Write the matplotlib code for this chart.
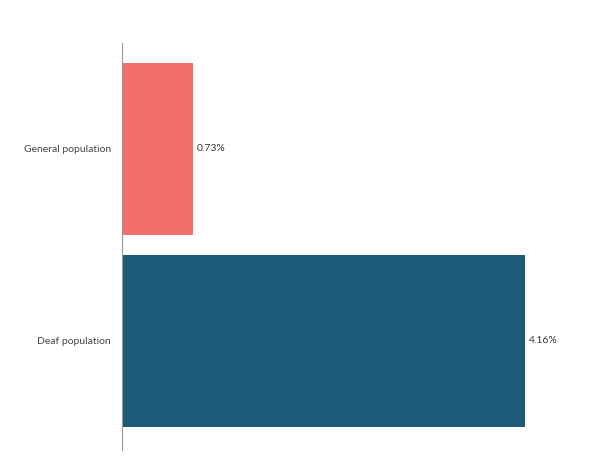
import matplotlib
matplotlib.use("Agg")
import matplotlib.pyplot as plt

categories = ["General population", "Deaf population"]
values = [0.73, 4.16]
labels = ["0.73%", "4.16%"]
colors = ["#f2706c", "#1c5a77"]

plt.rcParams['font.family'] = ['Lato', 'DejaVu Sans']
fig = plt.figure(figsize=(6.04, 4.68), dpi=100)
ax = fig.add_axes([122/604, 1-450/468, (580-122)/604, (450-43)/468])
y = list(range(len(categories)))
ax.barh(y, values, height=0.896, color=colors)
for yi, v, l in zip(y, values, labels):
    ax.text(v + 0.04, yi, l, va='center', ha='left', fontsize=7.5, color='#333333')
ax.set_xlim(0, 4.73)
ax.set_ylim(1.568, -0.552)
ax.set_yticks(y)
ax.set_yticklabels(categories, fontsize=7.5, color='#444444')
ax.set_xticks([])
ax.tick_params(axis='y', length=0, pad=8)
for s in ['top', 'right', 'bottom']:
    ax.spines[s].set_visible(False)
ax.spines['left'].set_color('#999999')
fig.savefig("out.png", dpi=100)
